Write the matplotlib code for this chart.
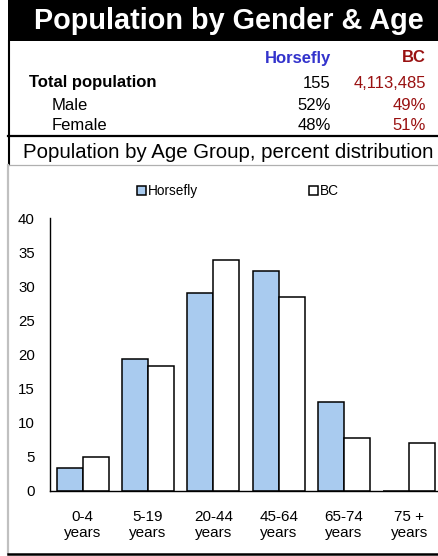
import numpy as np
import matplotlib
matplotlib.use('Agg')
import matplotlib.pyplot as plt
from matplotlib.patches import Rectangle
from matplotlib.lines import Line2D

plt.rcParams['font.family'] = ['Liberation Sans', 'DejaVu Sans']

# data
age_groups = ['0-4\nyears', '5-19\nyears', '20-44\nyears', '45-64\nyears', '65-74\nyears', '75 +\nyears']
horsefly = [3.3, 19.4, 29.1, 32.3, 13.0, 0.0]
bc = [5.0, 18.3, 33.9, 28.5, 7.7, 7.0]

table_cols = ['Horsefly', 'BC']
table_rows = ['Total population', 'Male', 'Female']
horsefly_vals = ['155', '52%', '48%']
bc_vals = ['4,113,485', '49%', '51%']

W, H = 438, 556
fig = plt.figure(figsize=(W / 100, H / 100), dpi=100)

def fx(px):
    return px / W

def fy(py):
    return 1 - py / H

blue_c = '#a9cbef'
head_blue = '#3333cc'
dark_red = '#991111'

# title bar
fig.add_artist(Rectangle((fx(8), fy(41)), fx(430), 41 / H, facecolor='black',
                         edgecolor='none', transform=fig.transFigure))
fig.text(fx(228.5), fy(21), 'Population by Gender & Age', color='white',
         fontsize=20.8, fontweight='bold', ha='center', va='center')

# table
fs = 12
fig.text(fx(331), fy(58), table_cols[0], color=head_blue, fontsize=fs,
         fontweight='bold', ha='right', va='center')
fig.text(fx(426), fy(58), table_cols[1], color=dark_red, fontsize=fs,
         fontweight='bold', ha='right', va='center')
row_y = [83, 106, 126]
row_x = [29, 52, 52]
for i in range(3):
    fig.text(fx(row_x[i]), fy(row_y[i]), table_rows[i], fontsize=fs,
             fontweight='bold' if i == 0 else 'normal', ha='left', va='center')
    fig.text(fx(331), fy(row_y[i]), horsefly_vals[i], fontsize=fs,
             ha='right', va='center')
    fig.text(fx(426), fy(row_y[i]), bc_vals[i], fontsize=fs, color=dark_red,
             ha='right', va='center')

# frame lines
fig.add_artist(Line2D([fx(9), fx(9)], [fy(41), fy(165)], color='black', lw=1.5))
fig.add_artist(Line2D([fx(8), fx(438)], [fy(136), fy(136)], color='black', lw=1.6))
fig.add_artist(Line2D([fx(8), fx(438)], [fy(165), fy(165)], color='#b0b0b0', lw=0.9))
fig.add_artist(Line2D([fx(8), fx(8)], [fy(165), fy(553)], color='#c0c0c0', lw=1.6))
fig.add_artist(Line2D([fx(8), fx(438)], [fy(553.5), fy(553.5)], color='black', lw=1.8))

fig.text(fx(228), fy(152), 'Population by Age Group, percent distribution',
         fontsize=14.7, ha='center', va='center')

# chart
ax = fig.add_axes([fx(50), fy(490.7), 392 / W, 272.2 / H])
x = np.arange(len(age_groups))
ax.bar(x - 0.2, horsefly, width=0.4, color=blue_c, edgecolor='black', linewidth=1.1,
       label='Horsefly')
ax.bar(x + 0.2, bc, width=0.4, color='white', edgecolor='black', linewidth=1.1,
       label='BC')
ax.set_xlim(-0.5, 5.5)
ax.set_ylim(0, 40)
ax.set_yticks(range(0, 41, 5))
ax.set_xticks(x)
ax.set_xticklabels(age_groups, fontsize=11, linespacing=1.2)
ax.tick_params(axis='y', length=0, pad=11, labelsize=10.8)
ax.tick_params(axis='x', length=0, pad=14)
ax.spines['top'].set_visible(False)
ax.spines['right'].set_visible(False)
ax.spines['left'].set_linewidth(1.0)
ax.spines['bottom'].set_linewidth(1.0)
ax.set_facecolor('none')

handles, labels = ax.get_legend_handles_labels()
fig.legend(handles, labels, loc='center', bbox_to_anchor=(fx(238), fy(191)), ncol=2,
           frameon=False, fontsize=9.8, handlelength=0.6, handleheight=0.6,
           handletextpad=0.15, columnspacing=8.2, borderpad=0, borderaxespad=0)

fig.savefig('out.png', dpi=100)
